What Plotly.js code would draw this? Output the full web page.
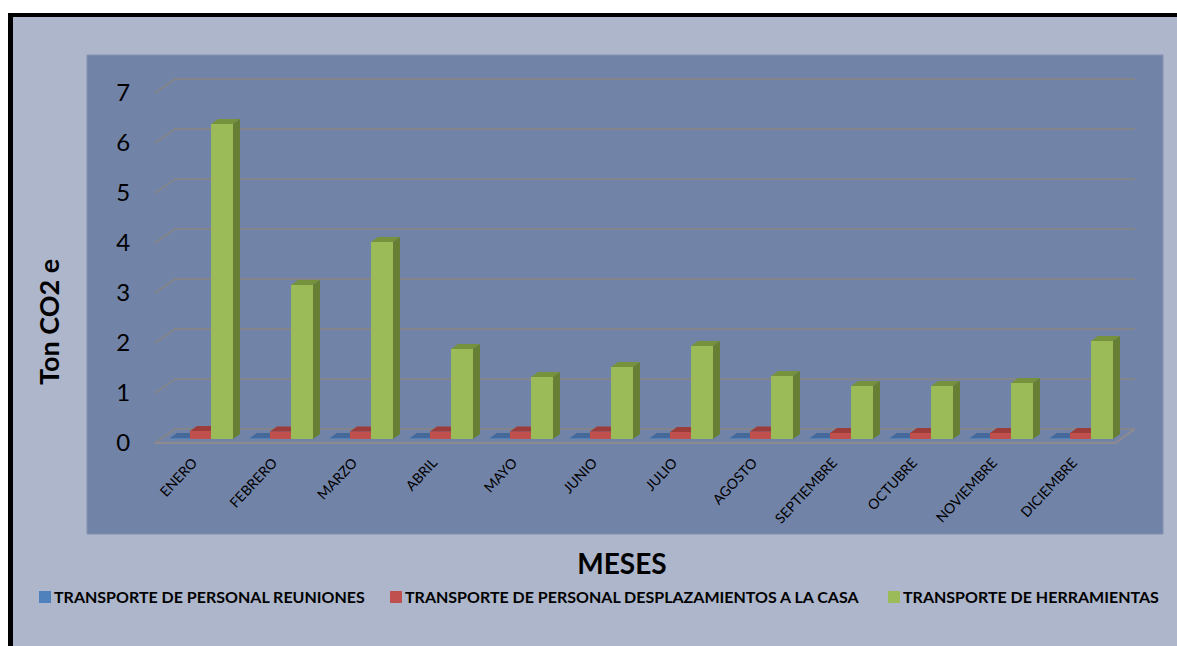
<!DOCTYPE html>
<html><head><meta charset="utf-8">
<script src="https://cdn.plot.ly/plotly-3.0.1.min.js"></script>
<style>html,body{margin:0;padding:0;background:#fff;overflow:hidden}#c{position:absolute;left:0;top:0;width:1177px;height:646px}</style>
</head><body><div id="c"></div>
<script>
const months=["ENERO","FEBRERO","MARZO","ABRIL","MAYO","JUNIO","JULIO","AGOSTO","SEPTIEMBRE","OCTUBRE","NOVIEMBRE","DICIEMBRE"];
const reuniones=[0.02,0.02,0.02,0.02,0.02,0.02,0.02,0.02,0.02,0.02,0.02,0.02];
const desplazamientos=[0.16,0.15,0.15,0.15,0.15,0.15,0.14,0.15,0.12,0.12,0.12,0.12];
const herramientas=[6.3,3.08,3.94,1.8,1.24,1.44,1.86,1.26,1.06,1.06,1.12,1.96];
const yTicks=[0,1,2,3,4,5,6,7];

const W=1177,H=646,L=109,R=1135,T=73,B=571;   // plot box, centred on the axis titles
const X0=201,Y0=443,pxX=80,pxY=50;            // pixel of (0,0), pixels per data unit
const base=4/pxY;
const dx=7/pxX, dy=5/pxY;
const gx=20/pxX, gy=14/pxY;
const x0=(155-X0)/pxX, x1=(R-X0)/pxX;
const px=v=>(v-L)/(R-L), py=v=>(B-v)/(B-T);

const cats=months.map((_,i)=>i);
const bar=(name,vals,color,off,w)=>({type:'bar',name,x:cats,y:vals,base:vals.map(()=>base),offset:off,width:w,
  marker:{color,line:{width:0}},hoverinfo:'skip'});
const oB=-31/pxX,wB=20/pxX,oR=-11/pxX,wR=21/pxX,oG=10/pxX,wG=22/pxX;

function poly(color,pts){
  const xs=[],ys=[];
  pts.forEach(p=>{p.forEach(q=>{xs.push(q[0]);ys.push(q[1]);});xs.push(p[0][0]);ys.push(p[0][1]);xs.push(null);ys.push(null);});
  return {type:'scatter',mode:'lines',x:xs,y:ys,fill:'toself',fillcolor:color,line:{width:0,color},showlegend:false,hoverinfo:'skip'};
}
const topFace=(vals,off,w,limit)=>vals.map((v,i)=>{
  const a=i+off,b=i+off+w,y=v+base;
  return limit?[[a,y],[a+dx,y+dy],[b,y+dy],[b,y]]:[[a,y],[a+dx,y+dy],[b+dx,y+dy],[b,y]];
});
const sideFace=(vals,off,w)=>vals.map((v,i)=>{
  const b=i+off+w,y=v+base;
  return [[b,base],[b+dx,base+dy],[b+dx,y+dy],[b,y]];
});

const traces=[
  bar("TRANSPORTE DE PERSONAL REUNIONES",reuniones,'#4F81BD',oB,wB),
  bar("TRANSPORTE DE PERSONAL DESPLAZAMIENTOS A LA CASA",desplazamientos,'#C0504D',oR,wR),
  bar("TRANSPORTE DE HERRAMIENTAS",herramientas,'#9BBB59',oG,wG),
  poly('#44699a',topFace(reuniones,oB,wB,true)),
  poly('#9c3d3b',topFace(desplazamientos,oR,wR,true)),
  poly('#76923C',topFace(herramientas,oG,wG,false)),
  poly('#667F35',sideFace(herramientas,oG,wG))
];

const grid=yTicks.map(v=>({type:'path',xref:'x',yref:'y',layer:'below',
  path:`M${x0},${v} L${x0+gx},${v+gy} L${x1},${v+gy}`,
  line:{color:'#83858a',width:2}}));
grid.push({type:'path',xref:'x',yref:'y',layer:'below',
  path:`M${x0},0 L${x1-gx},0 L${x1},${gy}`,line:{color:'#8f8a90',width:2}});

const panel={type:'rect',xref:'paper',yref:'paper',layer:'below',x0:px(87),x1:px(1163),y0:py(534),y1:py(55),
  fillcolor:'#7283A8',line:{color:'#8391B2',width:1}};
const bg={type:'rect',xref:'paper',yref:'paper',layer:'below',x0:px(10),x1:px(1177),y0:py(646),y1:py(15),
  fillcolor:'#ADB6CA',line:{width:0}};
const bL={type:'rect',xref:'paper',yref:'paper',layer:'below',x0:px(8),x1:px(13),y0:py(646),y1:py(13),fillcolor:'#000',line:{width:0}};
const bT={type:'rect',xref:'paper',yref:'paper',layer:'below',x0:px(8),x1:px(1177),y0:py(17),y1:py(13),fillcolor:'#000',line:{width:0}};

const font='Lato, "Open Sans", sans-serif';
const layout={
  width:W,height:H,margin:{l:L,r:W-R,t:T,b:H-B,pad:0},
  paper_bgcolor:'#fff',plot_bgcolor:'rgba(0,0,0,0)',
  font:{family:font,color:'#000'},
  barmode:'overlay',showlegend:true,
  shapes:[bg,bL,bT,panel].concat(grid),
  xaxis:{range:[(L-X0)/pxX,x1],anchor:'free',position:py(Y0),tickmode:'array',tickvals:cats.map(i=>i-0.1),ticktext:months,tickangle:-47,
    tickfont:{size:14,family:font,color:'#000'},ticks:'outside',ticklen:5,tickcolor:'rgba(0,0,0,0)',
    showgrid:false,zeroline:false,showline:false,automargin:false,
    title:{text:'<b>MESES</b>',font:{size:28,family:font,color:'#000'},standoff:28}},
  yaxis:{range:[(Y0-B)/pxY,(Y0-T)/pxY],anchor:'free',position:px(155),tickmode:'array',tickvals:yTicks,tickfont:{size:24,family:font,color:'#000'},
    ticks:'outside',ticklen:20,tickcolor:'rgba(0,0,0,0)',showgrid:false,zeroline:false,showline:false,automargin:false,
    title:{text:'<b>Ton CO2 e</b>',font:{size:27,family:font,color:'#000'},standoff:47}},
  legend:{orientation:'h',x:px(34),xanchor:'left',y:py(597),yanchor:'middle',bgcolor:'rgba(0,0,0,0)',
    font:{size:16,family:font,color:'#000',weight:700},itemwidth:30,itemclick:false,itemdoubleclick:false,traceorder:'normal'}
};
const legendLeft=[39,390,888];
const legendMid=597;
Plotly.newPlot('c',traces,layout,{displayModeBar:false,staticPlot:true}).then(gd=>{
  const sb=gd.querySelector('.legend .scrollbox');
  if(sb)sb.removeAttribute('clip-path');
  gd.querySelectorAll('.legend .traces').forEach((g,i)=>{
    const t=g.querySelector('.legendtext'); if(t)t.setAttribute('x',29);
    t&&t.querySelectorAll('tspan[x]').forEach(s=>s.setAttribute('x',29));
    const r=g.querySelector('.legendpoints path').getBoundingClientRect();
    const m=/translate\(([-\d.]+),\s*([-\d.]+)\)/.exec(g.getAttribute('transform'));
    g.setAttribute('transform',`translate(${+m[1]+legendLeft[i]-r.left},${+m[2]+legendMid-(r.top+r.bottom)/2})`);
  });
});
</script></body></html>
